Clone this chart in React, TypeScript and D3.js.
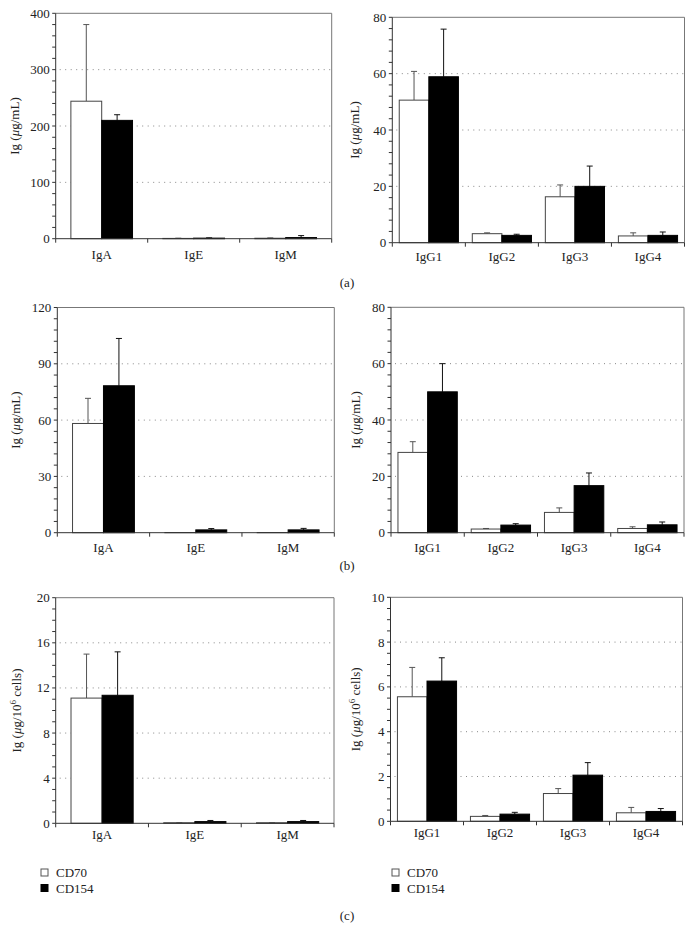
import React from "react";
import * as d3 from "d3";

const leftCats = ["IgA", "IgE", "IgM"];
const rightCats = ["IgG1", "IgG2", "IgG3", "IgG4"];
const seriesNames = ["CD70", "CD154"];

// (a) left
const aLeftCD70 = [244, 0.5, 0.8];
const aLeftCD70Sd = [136, 0.4, 0.6];
const aLeftCD154 = [210, 1, 2];
const aLeftCD154Sd = [10, 0.5, 3.5];
// (a) right
const aRightCD70 = [50.6, 3.2, 16.3, 2.4];
const aRightCD70Sd = [10.2, 0.3, 4.2, 1.1];
const aRightCD154 = [58.9, 2.6, 20, 2.6];
const aRightCD154Sd = [16.9, 0.4, 7.2, 1.2];
// (b) left
const bLeftCD70 = [58.2, 0.1, 0.1];
const bLeftCD70Sd = [13.4, 0, 0];
const bLeftCD154 = [78.3, 1.5, 1.5];
const bLeftCD154Sd = [25.2, 0.7, 0.8];
// (b) right
const bRightCD70 = [28.5, 1.3, 7.2, 1.5];
const bRightCD70Sd = [3.8, 0.2, 1.6, 0.6];
const bRightCD154 = [50.0, 2.7, 16.7, 2.8];
const bRightCD154Sd = [10.0, 0.5, 4.5, 1.0];
// (c) left
const cLeftCD70 = [11.1, 0.05, 0.05];
const cLeftCD70Sd = [3.9, 0.02, 0.02];
const cLeftCD154 = [11.35, 0.15, 0.15];
const cLeftCD154Sd = [3.85, 0.1, 0.1];
// (c) right
const cRightCD70 = [5.56, 0.22, 1.24, 0.38];
const cRightCD70Sd = [1.31, 0.04, 0.22, 0.24];
const cRightCD154 = [6.26, 0.32, 2.06, 0.44];
const cRightCD154Sd = [1.04, 0.08, 0.56, 0.13];

const FONT = '"Liberation Serif", "Times New Roman", "DejaVu Serif", serif';
const FS = 13;

type PanelProps = {
  cats: string[];
  v1: number[];
  s1: number[];
  v2: number[];
  s2: number[];
  x0: number;
  x1: number;
  yTop: number;
  y0: number;
  max: number;
  major: number;
  minor: number;
  groupFrac: number;
  labelDy: number;
  yLabelX: number;
  cells?: boolean;
};

function Panel(p: PanelProps) {
  const x = d3.scaleBand<string>().domain(p.cats).range([p.x0, p.x1]).paddingInner(0).paddingOuter(0);
  const bw = x.bandwidth();
  const gw = bw * p.groupFrac;
  const xs = d3.scaleBand<string>().domain(seriesNames).range([0, gw]).padding(0);
  const y = d3.scaleLinear().domain([0, p.max]).range([p.y0, p.yTop]);
  const majors = d3.range(0, p.max + p.major / 2, p.major);
  const minors = d3.range(0, p.max + p.minor / 2, p.minor);
  const bounds = p.cats.map((c) => x(c) as number).concat([p.x1]);
  const yMid = (p.yTop + p.y0) / 2;
  const series = [
    { name: "CD70", v: p.v1, s: p.s1, fill: "#fff", stroke: "#444", err: "#555" },
    { name: "CD154", v: p.v2, s: p.s2, fill: "#000", stroke: "#000", err: "#111" },
  ];
  return (
    <g>
      {majors
        .filter((t) => t > 0 && t < p.max)
        .map((t) => (
          <line key={"g" + t} x1={p.x0 + 4} x2={p.x1} y1={y(t)} y2={y(t)} stroke="#888" strokeWidth={1} strokeDasharray="1,4.5" />
        ))}
      <line x1={p.x0} x2={p.x1} y1={p.yTop} y2={p.yTop} stroke="#777" strokeWidth={1} />
      <line x1={p.x1} x2={p.x1} y1={p.yTop} y2={p.y0} stroke="#777" strokeWidth={1} />
      {series.map((s) =>
        p.cats.map((c, i) => {
          const bx = (x(c) as number) + (bw - gw) / 2 + (xs(s.name) as number);
          const w = xs.bandwidth();
          const top = y(s.v[i]);
          const etop = y(s.v[i] + s.s[i]);
          const cx = bx + w / 2;
          return (
            <g key={s.name + c}>
              {s.s[i] > 0 && (
                <g stroke={s.err} strokeWidth={1}>
                  <line x1={cx} x2={cx} y1={top} y2={etop} />
                  <line x1={cx - 3} x2={cx + 3} y1={etop} y2={etop} />
                </g>
              )}
              <rect x={bx} y={top} width={w} height={Math.max(0, p.y0 - top)} fill={s.fill} stroke={s.stroke} strokeWidth={1} />
            </g>
          );
        })
      )}
      <line x1={p.x0} x2={p.x0} y1={p.yTop} y2={p.y0} stroke="#333" strokeWidth={1} />
      {minors.map((t) => (
        <line key={"m" + t} x1={p.x0 - 3.5} x2={p.x0} y1={y(t)} y2={y(t)} stroke="#333" strokeWidth={1} />
      ))}
      {majors.map((t) => (
        <text key={"l" + t} x={p.x0 - 6} y={y(t) + 4.5} textAnchor="end" fontSize={FS} fill="#222">
          {d3.format("d")(t)}
        </text>
      ))}
      <line x1={p.x0} x2={p.x1} y1={p.y0} y2={p.y0} stroke="#333" strokeWidth={1} />
      {bounds.map((b, i) => (
        <line key={"b" + i} x1={b} x2={b} y1={p.y0} y2={p.y0 + 4} stroke="#333" strokeWidth={1} />
      ))}
      {p.cats.map((c) => (
        <text key={"c" + c} x={(x(c) as number) + bw / 2} y={p.y0 + p.labelDy} textAnchor="middle" fontSize={FS} fill="#222">
          {c}
        </text>
      ))}
      <text transform={`translate(${p.yLabelX},${yMid}) rotate(-90)`} textAnchor="middle" fontSize={FS} fill="#222">
        {p.cells ? (
          <>
            Ig (<tspan fontStyle="italic">μ</tspan>g/10<tspan fontSize={9} dy={-5}>6</tspan>
            <tspan dy={5}> cells)</tspan>
          </>
        ) : (
          <>
            Ig (<tspan fontStyle="italic">μ</tspan>g/mL)
          </>
        )}
      </text>
    </g>
  );
}

function Legend({ x, y }: { x: number; y: number }) {
  return (
    <g>
      {seriesNames.map((n, i) => (
        <g key={n}>
          <rect x={x} y={y + i * 15.5} width={7} height={7} fill={i === 0 ? "#fff" : "#000"} stroke={i === 0 ? "#555" : "#000"} strokeWidth={1} />
          <text x={x + 15} y={y + i * 15.5 + 8} fontSize={FS} fill="#222">
            {n}
          </text>
        </g>
      ))}
    </g>
  );
}

export default function App() {
  return (
    <svg width={694} height={929} style={{ position: "absolute", left: 0, top: 0, background: "#fff", fontFamily: FONT }} fontFamily={FONT}>
      <rect width={694} height={929} fill="#fff" />
      <Panel cats={leftCats} v1={aLeftCD70} s1={aLeftCD70Sd} v2={aLeftCD154} s2={aLeftCD154Sd}
        x0={55.7} x1={331.7} yTop={13.3} y0={238.7} max={400} major={100} minor={20} groupFrac={0.67} labelDy={20} yLabelX={19} />
      <Panel cats={rightCats} v1={aRightCD70} s1={aRightCD70Sd} v2={aRightCD154} s2={aRightCD154Sd}
        x0={392.3} x1={684.5} yTop={17.3} y0={242.7} max={80} major={20} minor={4} groupFrac={0.81} labelDy={18} yLabelX={359} />
      <text x={347} y={287} textAnchor="middle" fontSize={FS} fill="#222">(a)</text>

      <Panel cats={leftCats} v1={bLeftCD70} s1={bLeftCD70Sd} v2={bLeftCD154} s2={bLeftCD154Sd}
        x0={57.3} x1={334.3} yTop={307.5} y0={532.7} max={120} major={30} minor={6} groupFrac={0.67} labelDy={19} yLabelX={20} />
      <Panel cats={rightCats} v1={bRightCD70} s1={bRightCD70Sd} v2={bRightCD154} s2={bRightCD154Sd}
        x0={391} x1={684} yTop={307.3} y0={532.7} max={80} major={20} minor={4} groupFrac={0.81} labelDy={19} yLabelX={359.5} />
      <text x={347} y={570} textAnchor="middle" fontSize={FS} fill="#222">(b)</text>

      <Panel cats={leftCats} v1={cLeftCD70} s1={cLeftCD70Sd} v2={cLeftCD154} s2={cLeftCD154Sd}
        x0={55.7} x1={334} yTop={597.7} y0={823.3} max={20} major={4} minor={1} groupFrac={0.67} labelDy={16} yLabelX={21} cells />
      <Panel cats={rightCats} v1={cRightCD70} s1={cRightCD70Sd} v2={cRightCD154} s2={cRightCD154Sd}
        x0={390.5} x1={682.5} yTop={597.3} y0={821.3} max={10} major={2} minor={0.5} groupFrac={0.81} labelDy={15.5} yLabelX={359.5} cells />

      <Legend x={41} y={869} />
      <Legend x={392} y={869} />
      <text x={347} y={920} textAnchor="middle" fontSize={FS} fill="#222">(c)</text>
    </svg>
  );
}
